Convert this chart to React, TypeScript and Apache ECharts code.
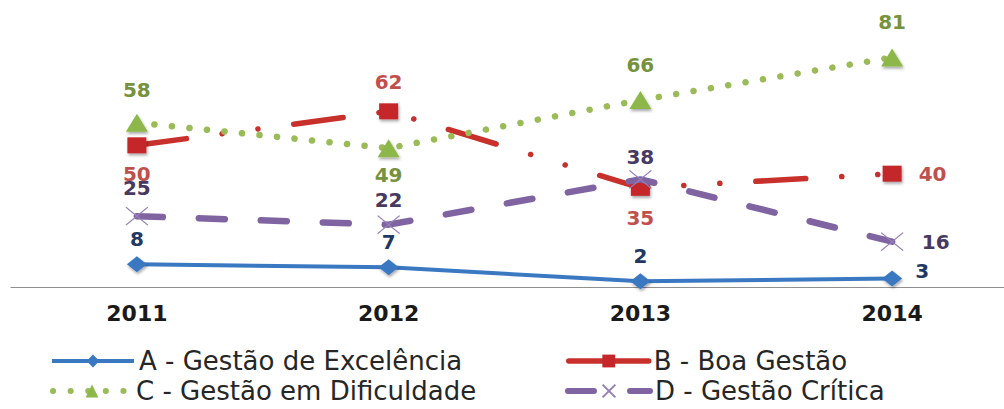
import React, { useEffect, useRef } from "react";
import * as echarts from "echarts";

// Categories and series values
const years = ["2011", "2012", "2013", "2014"];
const seriesNames = [
  "A - Gestão de Excelência",
  "B - Boa Gestão",
  "C - Gestão em Dificuldade",
  "D - Gestão Crítica",
];
const gestaoExcelencia = [8, 7, 2, 3];
const boaGestao = [50, 62, 35, 40];
const gestaoDificuldade = [58, 49, 66, 81];
const gestaoCritica = [25, 22, 38, 16];

// Where each point's value label sits relative to its marker
type LabelPlace = { position: string; distance: number; offset?: number[] };
const placesA: LabelPlace[] = [
  { position: "top", distance: 7 },
  { position: "top", distance: 7 },
  { position: "top", distance: 7 },
  { position: "right", distance: 13, offset: [0, -8] },
];
const placesB: LabelPlace[] = [
  { position: "bottom", distance: 11 },
  { position: "top", distance: 11 },
  { position: "bottom", distance: 12 },
  { position: "right", distance: 17 },
];
const placesC: LabelPlace[] = [
  { position: "top", distance: 14 },
  { position: "bottom", distance: 8 },
  { position: "top", distance: 16 },
  { position: "top", distance: 17 },
];
const placesD: LabelPlace[] = [
  { position: "top", distance: 9 },
  { position: "top", distance: 5 },
  { position: "top", distance: 3 },
  { position: "right", distance: 18 },
];

const FONT = "DejaVu Sans";
const CROSS = "path://M0,0L10,10M10,0L0,10";

const markerShadow = {
  shadowColor: "rgba(0,0,0,0.35)",
  shadowBlur: 3,
  shadowOffsetX: 1,
  shadowOffsetY: 2,
};

function withLabels(values: number[], places: LabelPlace[], color: string) {
  return values.map((v, i) => ({
    value: v,
    label: {
      show: true,
      position: places[i].position,
      distance: places[i].distance,
      offset: places[i].offset || [0, 0],
      color,
      fontFamily: FONT,
      fontWeight: "bold",
      fontSize: 20,
    },
  }));
}

export default function App() {
  const ref = useRef<HTMLDivElement>(null);

  useEffect(() => {
    if (!ref.current) return;
    const chart = echarts.init(ref.current, undefined, { renderer: "svg" });

    const legendBase = {
      orient: "horizontal",
      padding: 0,
      itemHeight: 16,
      selectedMode: false,
      textStyle: { fontFamily: FONT, fontSize: 26, color: "#262626" },
    };

    const lineA = { color: "#3a78c2", width: 4 };
    const lineB = {
      color: "#c8302c",
      width: 5.5,
      cap: "round",
      type: [50, 36, 0.1, 36, 0.1, 36],
    };
    const lineC = { color: "#9bbb59", width: 6.5, cap: "round", type: [0.1, 17.5] };
    const lineD = { color: "#8064a2", width: 6.5, cap: "round", type: [26, 36] };

    chart.setOption({
      animation: false,
      backgroundColor: "#ffffff",
      textStyle: { fontFamily: FONT },
      grid: {
        left: 11,
        top: 32,
        width: 1007,
        height: 255,
        containLabel: false,
        outerBoundsMode: "none",
      },
      xAxis: {
        type: "category",
        data: years,
        boundaryGap: true,
        axisLine: { show: true, lineStyle: { color: "#8f8f8f", width: 1.2 } },
        axisTick: { show: false },
        splitLine: { show: false },
        axisLabel: {
          margin: 15,
          color: "#1a1a1a",
          fontFamily: FONT,
          fontWeight: "bold",
          fontSize: 22,
        },
      },
      yAxis: {
        type: "value",
        min: 0,
        max: 90,
        show: false,
        splitLine: { show: false },
      },
      legend: [
        {
          ...legendBase,
          data: [seriesNames[0]],
          left: 50,
          top: 348,
          itemWidth: 82,
          lineStyle: { width: 4 },
        },
        {
          ...legendBase,
          data: [seriesNames[1]],
          left: 566,
          top: 348,
          itemWidth: 80,
          lineStyle: { width: 5.5, type: "solid" },
        },
        {
          ...legendBase,
          data: [seriesNames[2]],
          left: 50,
          top: 378,
          itemWidth: 78,
          lineStyle: { width: 6 },
        },
        {
          ...legendBase,
          data: [seriesNames[3]],
          left: 565,
          top: 378,
          itemWidth: 82,
          lineStyle: { width: 6 },
        },
      ],
      series: [
        {
          name: seriesNames[0],
          type: "line",
          data: withLabels(gestaoExcelencia, placesA, "#1f3864"),
          symbol: "diamond",
          symbolSize: [20, 16],
          lineStyle: lineA,
          itemStyle: { color: "#3a78c2", ...markerShadow },
          emphasis: { disabled: true },
          z: 2,
        },
        {
          name: seriesNames[1],
          type: "line",
          data: withLabels(boaGestao, placesB, "#c0504d"),
          symbol: "rect",
          symbolSize: [19, 16],
          lineStyle: lineB,
          itemStyle: { color: "#c4262a", ...markerShadow },
          emphasis: { disabled: true },
          z: 3,
        },
        {
          name: seriesNames[2],
          type: "line",
          data: withLabels(gestaoDificuldade, placesC, "#76923c"),
          symbol: "triangle",
          symbolSize: [22, 18],
          lineStyle: lineC,
          itemStyle: { color: "#8db84a", ...markerShadow },
          emphasis: { disabled: true },
          z: 4,
        },
        {
          name: seriesNames[3],
          type: "line",
          data: withLabels(gestaoCritica, placesD, "#47395f"),
          symbol: CROSS,
          symbolSize: [22, 18],
          lineStyle: lineD,
          itemStyle: {
            color: "#8064a2",
            borderColor: "#9580b8",
            borderWidth: 1.2,
          },
          emphasis: { disabled: true },
          z: 5,
        },
      ],
    });

    return () => chart.dispose();
  }, []);

  return (
    <div
      ref={ref}
      style={{ position: "absolute", left: 0, top: 0, width: 1004, height: 409 }}
    />
  );
}
